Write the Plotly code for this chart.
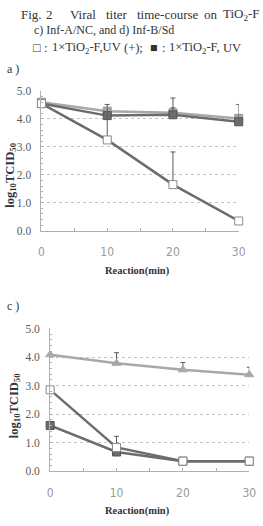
import plotly.graph_objects as go

W, H = 263, 526

# ---------------- data ----------------
time_min = [0, 10, 20, 30]

# panel a
a_uv_plus = [4.55, 3.25, 1.65, 0.35]          # open squares
a_uv_plus_err = [None, 1.27, 1.17, None]
a_uv_minus = [4.55, 4.12, 4.15, 3.90]         # filled squares
a_uv_minus_err = [None, None, 0.25, 0.62]
a_control = [4.60, 4.28, 4.22, 4.02]          # light grey
a_control_err = [None, None, 0.53, None]

# panel c
c_uv_plus = [2.85, 0.83, 0.35, 0.35]
c_uv_plus_err = [None, 0.39, None, None]
c_uv_minus = [1.60, 0.67, 0.35, 0.35]
c_uv_minus_err = [None, None, None, None]
c_control = [4.08, 3.78, 3.55, 3.38]
c_control_err = [None, 0.37, 0.26, 0.26]

x_ticks = [0, 10, 20, 30]
y_ticks = [0, 1, 2, 3, 4, 5]

# ---------------- styles ----------------
DARK = "#6c6c6c"
LIGHT = "#a8a8a8"
ERR = "#5a5a5a"


def px_x(p):
    return p / W


def px_y(p):
    return 1 - p / H


def err(vals):
    arr = [v if v is not None else 0 for v in vals]
    return dict(type="data", array=arr, arrayminus=[0] * len(arr), symmetric=False,
                color=ERR, thickness=1, width=2.5)


fig = go.Figure()


def add_series(xa, ya, y, e, color, symbol, mfill, mline, lw=2.5):
    fig.add_trace(go.Scatter(
        x=time_min, y=y, xaxis=xa, yaxis=ya, mode="lines+markers",
        line=dict(color=color, width=lw),
        marker=dict(symbol=symbol, size=8, color=mfill, line=dict(color=mline, width=1)),
        error_y=err(e), cliponaxis=False, showlegend=False,
    ))


# panel a
add_series("x", "y", a_control, a_control_err, LIGHT, "square", LIGHT, "#999999")
add_series("x", "y", a_uv_minus, a_uv_minus_err, DARK, "square", DARK, "#555555")
add_series("x", "y", a_uv_plus, a_uv_plus_err, DARK, "square", "white", "#8a8a8a")
# panel c
add_series("x2", "y2", c_control, c_control_err, LIGHT, "triangle-up", LIGHT, LIGHT)
add_series("x2", "y2", c_uv_minus, c_uv_minus_err, DARK, "square", DARK, "#555555")
add_series("x2", "y2", c_uv_plus, c_uv_plus_err, DARK, "square", "white", "#8a8a8a")

xstyle = dict(
    range=[0, 30], tickvals=x_ticks, ticktext=[str(v) for v in x_ticks],
    showgrid=False, zeroline=False, showline=True, linecolor="#b0b0b0", linewidth=1,
    ticks="inside", ticklen=3, tickcolor="#b0b0b0",
    minor=dict(dtick=5, ticks="inside", ticklen=3, tickcolor="#b0b0b0", showgrid=False),
    tickfont=dict(family="Liberation Sans Narrow, DejaVu Sans Condensed, sans-serif",
                  size=12, color="#9a9a9a"),
    ticklabelstandoff=10, fixedrange=True,
)
ystyle = dict(
    range=[0, 5], tickvals=y_ticks, tickformat=".1f",
    showgrid=True, gridcolor="#c4c4c4", griddash="dot", gridwidth=1,
    zeroline=False, showline=True, linecolor="#b0b0b0", linewidth=1,
    ticks="inside", ticklen=3, tickcolor="#b0b0b0",
    minor=dict(dtick=0.2, ticks="inside", ticklen=2, tickcolor="#b0b0b0", showgrid=False),
    tickfont=dict(family="Liberation Serif, serif", size=11.5, color="#5a5a5a"),
    ticklabelstandoff=7, fixedrange=True,
)

fig.update_layout(
    width=W, height=H, margin=dict(l=0, r=0, t=0, b=0),
    paper_bgcolor="white", plot_bgcolor="white",
    xaxis=dict(domain=[px_x(40), px_x(245)], anchor="y", **xstyle),
    yaxis=dict(domain=[px_y(230), px_y(87)], anchor="x", **ystyle),
    xaxis2=dict(domain=[px_x(49), px_x(256)], anchor="y2", **xstyle),
    yaxis2=dict(domain=[px_y(476), px_y(330)], anchor="x2", **ystyle),
)

SERIF = "Liberation Serif, serif"
TXT = "#333333"
ann = []


def text(t, x, y, size=12, anchor="left", color=TXT, angle=0, bold=False):
    if bold:
        t = "<b>" + t + "</b>"
    ann.append(dict(text=t, x=px_x(x), y=px_y(y), xref="paper", yref="paper",
                    xanchor=anchor, yanchor="middle", showarrow=False, textangle=angle,
                    font=dict(family=SERIF, size=size, color=color)))


# header line 1 (word by word, wide spacing as in the typeset caption)
for w, xp in [("Fig.", 17), ("2", 43), ("Viral", 68), ("titer", 105), ("time-course", 137),
              ("on", 207), ("TiO<sub>2</sub>-F", 227)]:
    text(w, xp, 9, size=13)
text("c) Inf-A/NC, and d) Inf-B/Sd", 30, 25, size=12)
# header line 3 (pieces placed to follow the caption's spacing)
for w, xp in [("□", 29), (":", 41), ("1×TiO<sub>2</sub>-F,UV", 49), ("(+);", 124),
              ("■", 151), (":", 163), ("1×TiO<sub>2</sub>-F,", 170), ("UV", 227)]:
    text(w, xp, 43, size=12.5)

text("a )", 2, 64, size=12)
text("c )", 2, 307, size=12)

ytitle = "log<sub>10</sub>TCID<sub>50</sub>"
text(ytitle, 8, 173, size=12.5, anchor="center", angle=-90, bold=True)
text(ytitle, 12, 409, size=12.5, anchor="center", angle=-90, bold=True)
text("Reaction(min)", 140, 271, size=10.5, anchor="center", bold=True)
text("Reaction(min)", 140, 517, size=10.5, anchor="center", bold=True)

fig.update_layout(annotations=ann)
fig.write_html("out.html")
